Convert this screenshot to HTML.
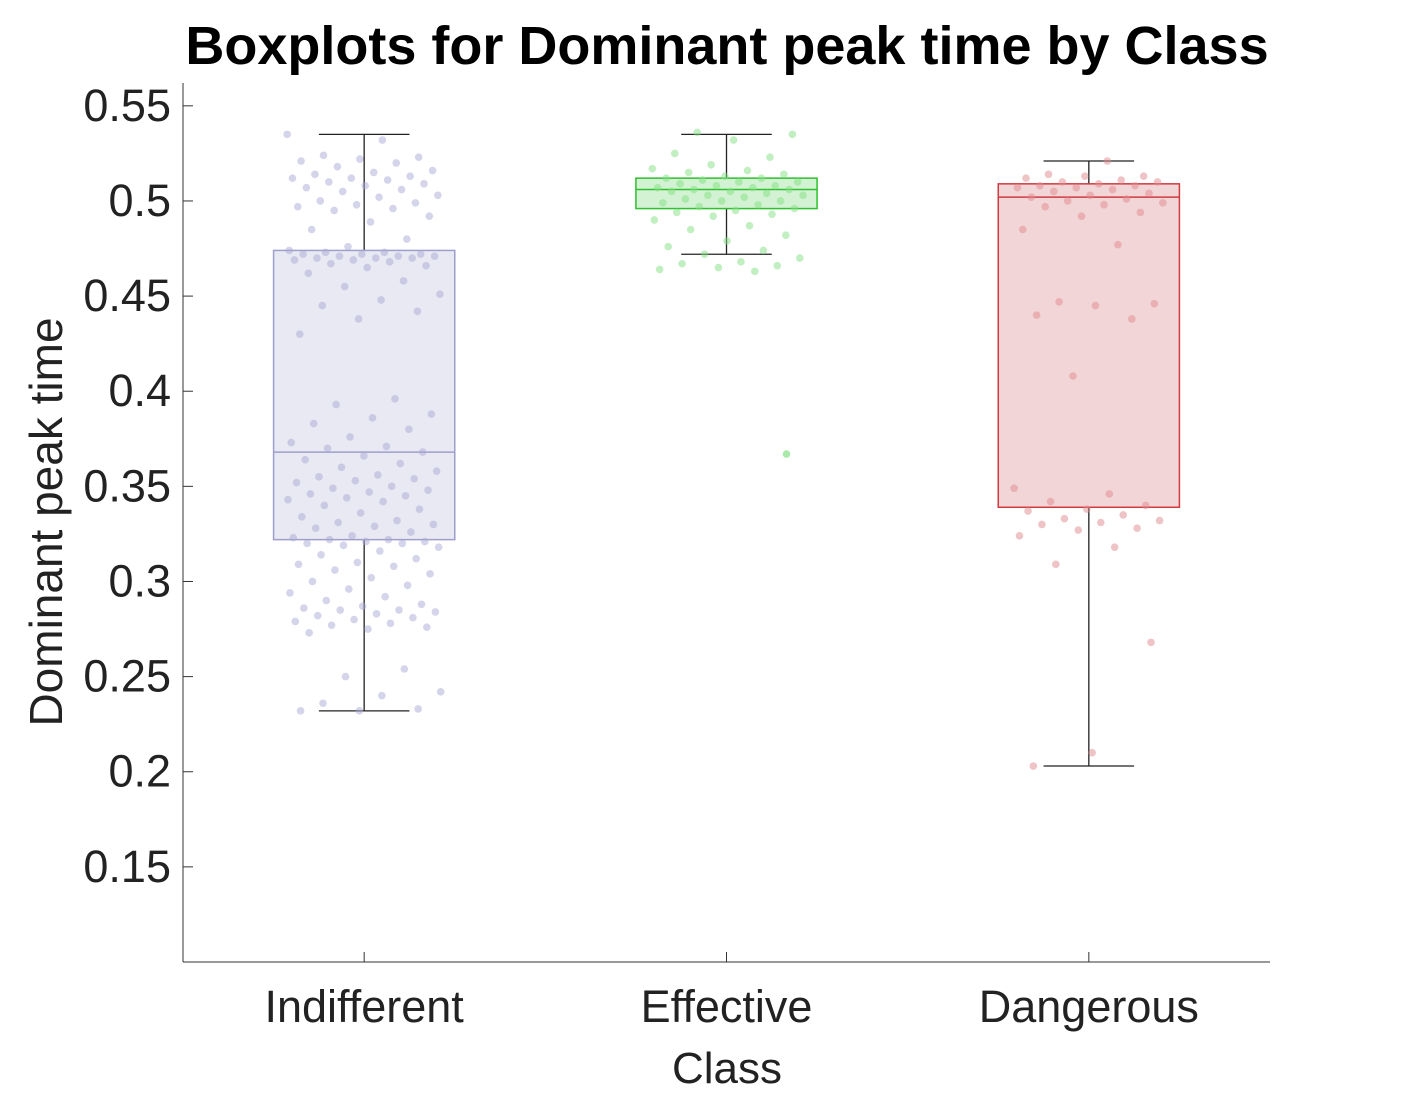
<!DOCTYPE html>
<html><head><meta charset="utf-8"><style>
body{margin:0;background:#fff;}
svg text{font-family:"Liberation Sans",Arial,sans-serif;fill:#222;}
</style></head><body>
<svg id="chart" width="1406" height="1094" xmlns="http://www.w3.org/2000/svg">
<text x="727" y="64" text-anchor="middle" font-size="54" font-weight="bold" style="fill:#000">Boxplots for Dominant peak time by Class</text>
<text transform="translate(62,522) rotate(-90)" text-anchor="middle" font-size="46">Dominant peak time</text>
<text x="727" y="1083" text-anchor="middle" font-size="44">Class</text>
<g id="axes"></g><g id="boxes"></g><g id="pts"></g>
</svg>
<script>
const categories=["Indifferent","Effective","Dangerous"];
const q1=[0.322,0.496,0.339];
const medians=[0.368,0.506,0.502];
const q3=[0.474,0.512,0.509];
const whiskerLow=[0.232,0.472,0.203];
const whiskerHigh=[0.535,0.535,0.521];
const yTicks=[0.15,0.2,0.25,0.3,0.35,0.4,0.45,0.5,0.55];
const ptsIndifferent=[0.535,0.532,0.524,0.523,0.522,0.521,0.520,0.518,0.516,0.515,0.514,0.513,0.512,0.512,0.511,0.510,0.509,0.508,0.507,0.506,0.505,0.503,0.502,0.500,0.499,0.498,0.497,0.496,0.495,0.492,0.489,0.485,0.480,0.476,0.474,0.473,0.473,0.472,0.472,0.472,0.471,0.471,0.471,0.470,0.470,0.470,0.469,0.469,0.468,0.467,0.466,0.465,0.462,0.458,0.455,0.451,0.448,0.445,0.442,0.438,0.430,0.396,0.393,0.388,0.386,0.383,0.380,0.376,0.373,0.371,0.370,0.368,0.366,0.364,0.362,0.360,0.358,0.356,0.355,0.354,0.353,0.352,0.350,0.349,0.348,0.347,0.346,0.345,0.344,0.343,0.342,0.340,0.338,0.336,0.334,0.332,0.331,0.330,0.329,0.328,0.326,0.324,0.323,0.322,0.322,0.321,0.321,0.320,0.320,0.319,0.318,0.316,0.314,0.312,0.310,0.309,0.308,0.306,0.304,0.302,0.300,0.298,0.296,0.294,0.292,0.290,0.288,0.287,0.286,0.285,0.285,0.284,0.283,0.282,0.281,0.280,0.279,0.278,0.277,0.276,0.275,0.273,0.254,0.250,0.242,0.240,0.236,0.233,0.232,0.232];
const ptsEffective=[0.536,0.535,0.532,0.525,0.523,0.519,0.517,0.516,0.515,0.514,0.513,0.512,0.512,0.511,0.510,0.510,0.509,0.508,0.508,0.507,0.507,0.506,0.506,0.505,0.505,0.504,0.503,0.503,0.502,0.501,0.500,0.500,0.499,0.498,0.497,0.496,0.495,0.494,0.493,0.492,0.490,0.487,0.485,0.482,0.479,0.476,0.474,0.472,0.470,0.468,0.467,0.466,0.465,0.464,0.463];
const ptsDangerous=[0.521,0.514,0.513,0.513,0.512,0.511,0.510,0.510,0.509,0.508,0.508,0.507,0.507,0.506,0.505,0.504,0.503,0.502,0.501,0.500,0.499,0.498,0.497,0.494,0.492,0.485,0.477,0.447,0.446,0.445,0.440,0.438,0.408,0.349,0.346,0.342,0.340,0.338,0.337,0.335,0.333,0.332,0.331,0.330,0.328,0.327,0.324,0.318,0.309,0.268,0.210,0.203];
const outliers=[[1,0.367]];
const NS="http://www.w3.org/2000/svg";
const L=183,R=1270,T=83,B=962,ymin=0.1,ymax=0.562;
const xs=i=>L+(i+0.5)*(R-L)/3;
const ys=v=>B-(v-ymin)/(ymax-ymin)*(B-T);
function mk(p,tag,a){const e=document.createElementNS(NS,tag);for(const k in a)e.setAttribute(k,a[k]);document.getElementById(p).appendChild(e);return e;}
let e=mk("axes","line",{x1:L,y1:T,x2:L,y2:B,stroke:"#333","stroke-width":1});


e=mk("axes","line",{x1:L,y1:B,x2:R,y2:B,stroke:"#333","stroke-width":1});


yTicks.forEach(t=>{
 let l=mk("axes","line",{x1:L,y1:ys(t),x2:L+10,y2:ys(t),stroke:"#333"});
 
 
 let tx=mk("axes","text",{x:L-12,y:ys(t)+15,"text-anchor":"end","font-size":"45"});
 tx.textContent=String(t);
 
 
});
categories.forEach((c,i)=>{
 let l=mk("axes","line",{x1:xs(i),y1:B,x2:xs(i),y2:B-10,stroke:"#333"});
 
 
 let tx=mk("axes","text",{x:xs(i),y:1022,"text-anchor":"middle","font-size":"45"});
 tx.textContent=c;
 
 
});
const fills=["#e9e9f3","#d3f2d3","#f2d5d6"],strokes=["#9e9ecc","#2ec02e","#d03a40"],pcol=["#a9a9d6","#84e084","#e08a8e"];
const bw=(R-L)/3*0.5;
categories.forEach((c,i)=>{
 const x=xs(i);
 let w=mk("boxes","line",{x1:x,y1:ys(whiskerLow[i]),x2:x,y2:ys(whiskerHigh[i]),stroke:"#222","stroke-width":1.3});
 
 
 [whiskerLow[i],whiskerHigh[i]].forEach(v=>{
  let cp=mk("boxes","line",{x1:x-bw/4,y1:ys(v),x2:x+bw/4,y2:ys(v),stroke:"#222","stroke-width":1.3});
  
  
 });
 let r=mk("boxes","rect",{x:x-bw/2,y:ys(q3[i]),width:bw,height:ys(q1[i])-ys(q3[i]),fill:fills[i],stroke:strokes[i],"stroke-width":1.5});
 
 
 let m=mk("boxes","line",{x1:x-bw/2,y1:ys(medians[i]),x2:x+bw/2,y2:ys(medians[i]),stroke:strokes[i],"stroke-width":1.5});
 
 
});
[ptsIndifferent,ptsEffective,ptsDangerous].forEach((arr,i)=>{
 arr.forEach((v,k)=>{
  const j=((k*0.6180339+0.31*i)%1)-0.5;
  let p=mk("pts","circle",{cx:xs(i)+j*bw*0.85,cy:ys(v),r:3.8,fill:pcol[i],"fill-opacity":0.5});
  
  
 });
});
outliers.forEach(o=>{
 let p=mk("pts","circle",{cx:xs(o[0])+60,cy:ys(o[1]),r:3.8,fill:pcol[o[0]],"fill-opacity":0.7});
 
 
});
</script>
</body></html>
